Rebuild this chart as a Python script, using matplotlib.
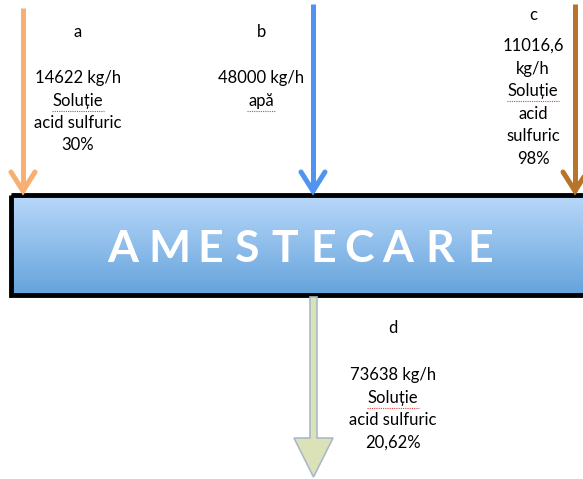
import numpy as np
import matplotlib
matplotlib.use('Agg')
import matplotlib.pyplot as plt
from matplotlib.patches import Rectangle, FancyArrow

# stream data
streams = ['a', 'b', 'c', 'd']
flows = [['14622 kg/h'], ['48000 kg/h'], ['11016,6', 'kg/h'], ['73638 kg/h']]
descriptions = [['Soluție', 'acid sulfuric', '30%'], ['apă'],
                ['Soluție', 'acid', 'sulfuric', '98%'],
                ['Soluție', 'acid sulfuric', '20,62%']]
stream_colors = ['#F7B072', '#4F94F0', '#B7742A', '#DCE2B8']
process_name = 'AMESTECARE'

plt.rcParams['font.family'] = ['Lato', 'DejaVu Sans']

fig = plt.figure(figsize=(5.83, 4.79), dpi=100)
ax = fig.add_axes([0, 0, 1, 1])
ax.set_xlim(0, 583)
ax.set_ylim(479, 0)
ax.axis('off')

# process box with vertical gradient
grad = np.linspace(0, 1, 256).reshape(-1, 1)
cmap = matplotlib.colors.LinearSegmentedColormap.from_list('box', ['#B9D8FA', '#64A3DB'])
ax.imshow(grad, cmap=cmap, extent=[11, 600, 295, 195], aspect='auto', zorder=1)
ax.add_patch(Rectangle((11, 195), 600, 100, fill=False, edgecolor='black', lw=3.5, zorder=2))
# wide letter spacing: one text per letter
letter_x = [123, 169, 210, 247, 285, 323, 359, 398, 440, 480]
for ch, x in zip(process_name, letter_x):
    ax.text(x, 249, ch, color='white', fontsize=32, fontweight='bold',
            ha='center', va='center', zorder=3)

# inlet arrows (line + open chevron head)
inlet_x = [23, 313, 575]
inlet_top = [8, 4, 4]
for x, y0, c in zip(inlet_x, inlet_top, stream_colors[:3]):
    ax.plot([x, x], [y0, 191], color=c, lw=3.6, solid_capstyle='butt', zorder=4)
    ax.plot([x - 12, x, x + 12], [172, 191, 172], color=c, lw=3.6,
            solid_capstyle='round', solid_joinstyle='miter', zorder=4)

# outlet arrow
ax.add_patch(FancyArrow(313.5, 297, 0, 180, width=7, head_width=39, head_length=39,
                        length_includes_head=True, facecolor=stream_colors[3],
                        edgecolor='#A9B9C9', lw=1.2, zorder=4))

# labels
fs = 12
step = 22.5
label_pos = [(78, 32), (261, 32), (533, 15), (393, 328)]
text_pos = [(78, 78), (261, 78), (533, 46), (393, 375)]
for i in range(4):
    lx, ly = label_pos[i]
    ax.text(lx, ly, streams[i], fontsize=fs, ha='center', va='center')
    tx, ty = text_pos[i]
    for j, line in enumerate(flows[i] + descriptions[i]):
        y = ty + j * step
        ax.text(tx, y, line, fontsize=fs, ha='center', va='center')
        if line in ('Soluție', 'apă'):
            # spell-check underline
            w = 52 if line == 'Soluție' else 28
            ax.plot([tx - w / 2, tx + w / 2], [y + 10, y + 10], color='#E04040',
                    lw=0.8, ls=(0, (1, 1)), zorder=5)

fig.savefig('out.png', dpi=100)
